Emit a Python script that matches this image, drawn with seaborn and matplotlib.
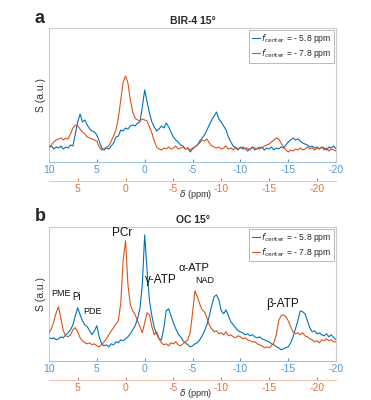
import numpy as np
import matplotlib
matplotlib.use('Agg')
import matplotlib.pyplot as plt
import seaborn as sns

# chemical shift grid of the -5.8 ppm acquisition (blue), 0.25 ppm steps
ppm_blue = np.linspace(10, -20, 121)
# the -7.8 ppm acquisition is referenced 2 ppm lower
ppm_orange = ppm_blue - 2

blue_ticks = [10, 5, 0, -5, -10, -15, -20]
orange_ticks = [5, 0, -5, -10, -15, -20]
labels = ['$f_{\\mathrm{center}}$ = - 5.8 ppm', '$f_{\\mathrm{center}}$ = - 7.8 ppm']

# panel a: BIR-4 15 deg
bir_blue = [14, 16, 13, 15, 14, 16, 13, 15, 14, 17,
            16, 28, 40, 48, 40, 42, 37, 33, 31, 30,
            27, 21, 14, 12, 14, 13, 16, 19, 25, 26,
            32, 31, 34, 33, 36, 37, 36, 39, 40, 55,
            72, 60, 49, 40, 35, 31, 33, 36, 34, 39,
            35, 30, 25, 22, 20, 17, 16, 13, 14, 10,
            13, 15, 17, 21, 24, 27, 32, 37, 42, 46,
            50, 43, 40, 36, 32, 25, 20, 16, 14, 12,
            15, 13, 14, 11, 13, 15, 12, 14, 13, 15,
            12, 14, 13, 15, 12, 14, 13, 15, 14, 17,
            20, 22, 24, 22, 23, 21, 19, 18, 17, 15,
            16, 14, 15, 13, 15, 14, 12, 15, 14, 16,
            13]
bir_orange = [15, 17, 20, 22, 23, 24, 22, 24, 23, 28,
              34, 37, 36, 33, 30, 28, 25, 24, 23, 22,
              21, 15, 12, 13, 15, 16, 21, 26, 32, 44,
              62, 80, 86, 79, 62, 50, 44, 42, 41, 43,
              42, 41, 35, 29, 21, 15, 13, 12, 14, 13,
              15, 13, 14, 16, 13, 14, 15, 13, 14, 12,
              14, 15, 17, 19, 22, 21, 23, 19, 16, 15,
              14, 15, 13, 14, 16, 13, 14, 12, 15, 13,
              14, 15, 13, 14, 12, 15, 14, 13, 15, 14,
              16, 17, 18, 20, 22, 24, 23, 19, 15, 12,
              10, 12, 11, 13, 12, 14, 12, 13, 15, 13,
              14, 12, 14, 13, 15, 12, 14, 11, 13, 12,
              11]

# panel b: OC 15 deg
oc_blue = [24, 22, 23, 21, 22, 24, 23, 26, 28, 31,
           36, 45, 53, 46, 40, 36, 34, 30, 26, 30,
           35, 24, 17, 15, 16, 14, 17, 16, 19, 18,
           21, 20, 22, 24, 27, 31, 35, 42, 52, 76,
           126, 90, 60, 45, 33, 27, 22, 21, 33, 50,
           52, 45, 38, 32, 27, 24, 20, 18, 16, 14,
           15, 17, 18, 21, 25, 30, 36, 45, 55, 64,
           66, 61, 50, 47, 51, 45, 39, 36, 33, 30,
           29, 28, 26, 27, 25, 26, 24, 23, 24, 22,
           21, 20, 19, 17, 16, 14, 13, 11, 12, 13,
           14, 18, 24, 32, 40, 50, 49, 47, 40, 33,
           29, 30, 27, 28, 26, 25, 27, 24, 26, 23,
           21]
oc_orange = [28, 32, 39, 48, 54, 42, 30, 25, 24, 26,
             31, 33, 29, 23, 20, 18, 17, 18, 16, 17,
             15, 14, 16, 19, 22, 26, 30, 33, 37, 40,
             58, 100, 120, 76, 56, 50, 46, 40, 34, 28,
             38, 48, 46, 34, 26, 29, 22, 18, 16, 17,
             15, 18, 17, 19, 16, 15, 17, 19, 21, 28,
             48, 70, 64, 57, 51, 49, 43, 36, 32, 29,
             30, 27, 28, 26, 29, 25, 26, 24, 23, 25,
             24, 22, 23, 21, 20, 19, 19, 17, 16, 15,
             13, 14, 13, 15, 18, 26, 40, 45, 46, 44,
             40, 34, 29, 27, 28, 26, 28, 25, 24, 22,
             21, 19, 20, 18, 21, 20, 22, 20, 21, 19,
             19]

# peak assignments for panel b (label, ppm, height, fontsize)
peak_names = ['PME', 'Pi', 'PDE', 'PCr', 'γ-ATP', 'α-ATP', 'NAD', 'β-ATP']
peak_ppm = [8.7, 7.1, 5.5, 2.4, -1.7, -5.1, -6.3, -14.4]
peak_height = [67, 64, 49, 128, 81, 93, 80, 57]
peak_size = [6.5, 7, 6.5, 8.5, 8.5, 8, 6.5, 8.5]

BLUE = '#0072BD'
ORANGE = '#D95319'

sns.set_style('white')
plt.rcParams['font.family'] = ['Liberation Sans', 'DejaVu Sans']
plt.rcParams['axes.unicode_minus'] = False


def drawPanel(fig, rect, letter, title, yb, yo, peaks=False):
    ax = fig.add_axes(rect)
    sns.lineplot(x=ppm_blue, y=yb, ax=ax, color=BLUE, linewidth=0.8, label=labels[0], legend=False)
    ax.set_xlim(10, -20)
    ax.set_ylim(0, 134)
    ax.set_xticks(blue_ticks)
    ax.set_yticks([])
    ax.tick_params(axis='x', direction='in', length=2, colors='#4f9ad6', labelsize=7.5, pad=2, top=True)
    for s in ['top', 'right', 'left']:
        ax.spines[s].set_color('#c4ccd4')
        ax.spines[s].set_linewidth(0.8)
    ax.spines['bottom'].set_color('#9cc3e4')
    ax.spines['bottom'].set_linewidth(0.8)
    ax.set_ylabel('S (a.u.)', fontsize=7.5, color='#333333', labelpad=2)
    ax.set_title(title, fontsize=7.5, fontweight='bold', pad=3)
    ax.text(-0.05, 1.01, letter, transform=ax.transAxes, fontsize=13, fontweight='bold', va='bottom')

    ax2 = ax.twiny()
    sns.lineplot(x=ppm_orange, y=yo, ax=ax2, color=ORANGE, linewidth=0.8, label=labels[1], legend=False)
    ax2.set_xlim(8, -22)
    ax2.set_xticks(orange_ticks)
    ax2.xaxis.set_ticks_position('bottom')
    ax2.xaxis.set_label_position('bottom')
    ax2.spines['bottom'].set_position(('outward', 14))
    for s in ['top', 'right', 'left']:
        ax2.spines[s].set_visible(False)
    ax2.spines['bottom'].set_color('#f0c4b0')
    ax2.spines['bottom'].set_linewidth(0.8)
    ax2.tick_params(axis='x', direction='in', length=2, colors='#e0733f', labelsize=7.5, pad=2)
    ax2.set_xlabel('$\\delta$ (ppm)', fontsize=6.6, labelpad=-4.5, color='#333333', x=0.51)

    h1, l1 = ax.get_legend_handles_labels()
    h2, l2 = ax2.get_legend_handles_labels()
    leg = ax2.legend(h1 + h2, l1 + l2, loc='upper right', fontsize=6.2, handlelength=0.9,
                     handletextpad=0.2, borderpad=0.3, labelspacing=0.2, borderaxespad=0.2,
                     fancybox=False, framealpha=1)
    leg.get_frame().set_edgecolor('#b0b0b0')
    leg.get_frame().set_linewidth(0.6)

    if peaks:
        for name, p, h, fs in zip(peak_names, peak_ppm, peak_height, peak_size):
            ax.text(p, h, name, fontsize=fs, ha='center', va='center', color='#111111')
    return ax


def main():
    fig = plt.figure(figsize=(3.71, 4.0), dpi=100)
    drawPanel(fig, [0.132, 0.595, 0.774, 0.335], 'a', 'BIR-4 15°', bir_blue, bir_orange)
    drawPanel(fig, [0.132, 0.098, 0.774, 0.335], 'b', 'OC 15°', oc_blue, oc_orange, peaks=True)
    fig.savefig('out.png', dpi=100)

main()
